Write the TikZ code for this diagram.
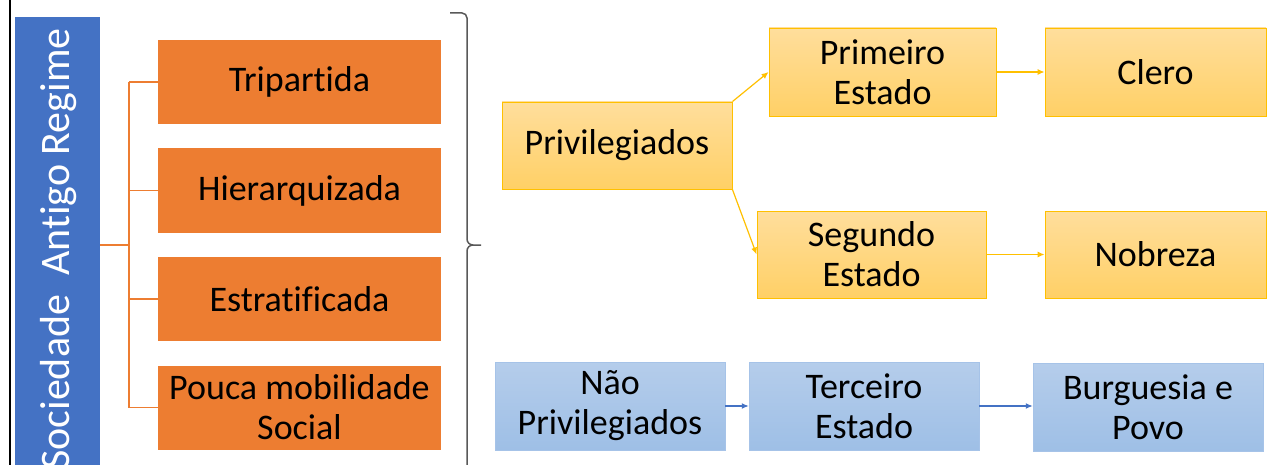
\documentclass[tikz,border=0pt]{standalone}
\usepackage{fontspec}
\setmainfont{Carlito}[Ligatures={NoCommon}]
\usetikzlibrary{arrows.meta}
\definecolor{sblue}{HTML}{4472C4}
\definecolor{sorange}{HTML}{ED7D31}
\definecolor{gold}{HTML}{FFC000}
\definecolor{goldtop}{HTML}{FFDE9C}
\definecolor{goldbot}{HTML}{FFD066}
\definecolor{ltop}{HTML}{B5CDEB}
\definecolor{lbot}{HTML}{9EBFE6}
\definecolor{lborder}{HTML}{A6C3E8}
\definecolor{bracegray}{HTML}{595959}
\begin{document}
\begin{tikzpicture}[x=1pt,y=-1pt,
  every node/.style={font=\fontsize{36}{40}\selectfont, align=center, inner sep=0pt, text=black},
  obox/.style={fill=sorange, minimum width=283pt, minimum height=84pt},
  ybox/.style={top color=goldtop, bottom color=goldbot, draw=gold, line width=0.8pt, minimum height=87pt},
  bbox/.style={top color=ltop, bottom color=lbot, draw=lborder, line width=0.5pt, minimum width=230pt, minimum height=88pt},
  oline/.style={draw=sorange, line width=1.3pt},
  yarrow/.style={draw=gold, line width=1.2pt, -{Latex[length=7pt,width=6pt]}},
  barrow/.style={draw=sblue, line width=1.2pt, -{Latex[length=7pt,width=6pt]}},
  bracestyle/.style={draw=bracegray, line width=1.5pt},
]
\useasboundingbox (0,0) rectangle (1268,465);
\clip (0,0) rectangle (1268,465);
\fill[white] (0,0) rectangle (1268,465);
% left frame line
\draw[line width=2pt] (10,-5) -- (10,470);
% title box
\node[fill=sblue, minimum width=85pt, minimum height=456pt] (soc) at (57.5,245) {};
\node[rotate=90, anchor=east, text=white, font=\fontsize{42}{46}\selectfont] (title) at (59,28) {Sociedade~~Antigo Regime};
% orange boxes
\node[obox] (tri) at (299.5,82) {Tripartida};
\node[obox] (hie) at (299.5,190.5) {Hierarquizada};
\node[obox] (est) at (299.5,299) {Estratificada};
\node[obox] (pou) at (299.5,407.5) {Pouca mobilidade\\Social};
\coordinate (j) at (129,245);
\draw[oline] (soc.east) -- (j);
\draw[oline] (j |- tri.west) -- (j |- pou.west);
\draw[oline] (j |- tri.west) -- (tri.west);
\draw[oline] (j |- hie.west) -- (hie.west);
\draw[oline] (j |- est.west) -- (est.west);
\draw[oline] (j |- pou.west) -- (pou.west);
% brace
\draw[bracestyle] (450,13) -- (462,13) to[out=0,in=90] (467,18) -- (467,239) to[out=-90,in=180] (473,245) -- (481,245);
\draw[bracestyle] (473,245) to[out=180,in=90] (467,251) -- (467,470);
% privileged
\node[ybox, minimum width=230pt] (priv) at (617,145.5) {Privilegiados};
\node[ybox, minimum width=227pt, minimum height=88pt] (pri) at (882.5,72) {Primeiro\\Estado};
\node[ybox, minimum width=221pt, minimum height=88pt] (cle) at (1155.5,72) {Clero};
\node[ybox, minimum width=229pt] (seg) at (871.5,254.5) {Segundo\\Estado};
\node[ybox, minimum width=221pt] (nob) at (1155.5,254.5) {Nobreza};
\draw[yarrow] (priv.north east) -- (pri.west);
\draw[yarrow] (priv.south east) -- (seg.west);
\draw[yarrow] (pri.east) -- (cle.west);
\draw[yarrow] (seg.east) -- (nob.west);
% non-privileged
\node[bbox] (nao) at (610,406) {Não\\Privilegiados};
\node[bbox] (ter) at (864,406) {Terceiro\\Estado};
\node[bbox] (bur) at (1148,407.5) {Burguesia e\\Povo};
\draw[barrow] (nao.east) -- (ter.west);
\draw[barrow] (ter.east) -- (bur.west |- ter.east);
\end{tikzpicture}
\end{document}
